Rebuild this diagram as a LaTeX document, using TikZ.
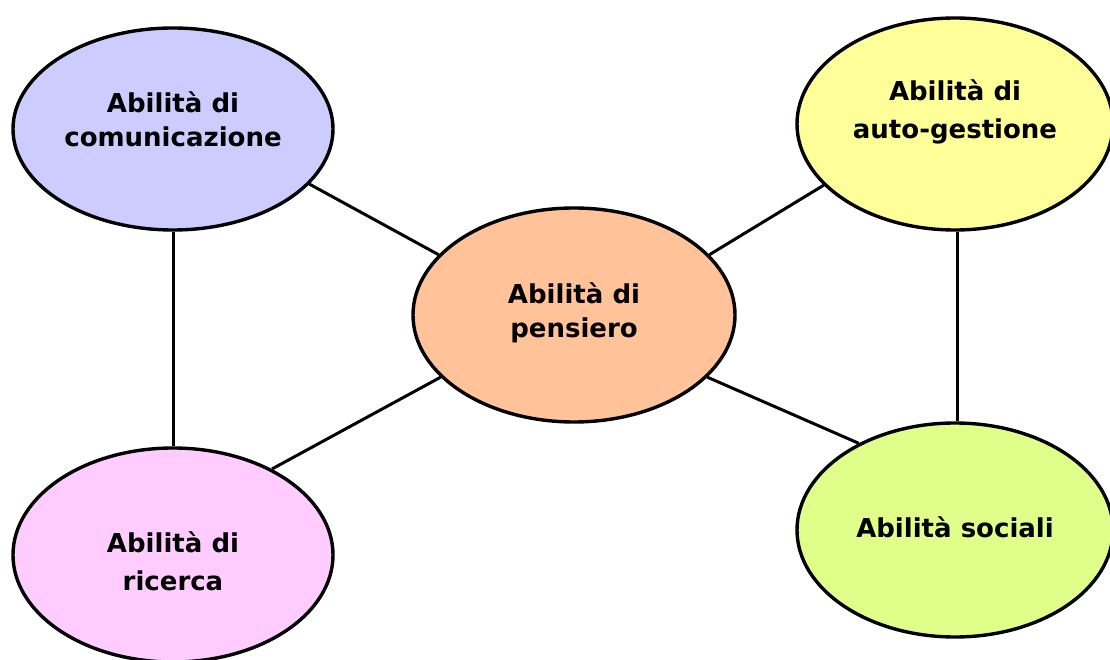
\documentclass[tikz,border=0pt]{standalone}
\usepackage{fontspec}
\setmainfont{DejaVu Sans}
\usepackage{xcolor}
\usepackage{tikz}
\usetikzlibrary{shapes.geometric,positioning}

\definecolor{comcol}{HTML}{CCCCFF}
\definecolor{autocol}{HTML}{FFFF99}
\definecolor{pencol}{HTML}{FFC299}
\definecolor{riccol}{HTML}{FFCCFF}
\definecolor{soccol}{HTML}{DFFF8A}

\begin{document}
\begin{tikzpicture}[
  x=1pt,y=1pt,
  skill/.style={ellipse,draw=black,line width=3.4pt,inner sep=0pt,
    minimum width=320pt,minimum height=212pt},
  every label/.style={align=center,font=\fontsize{26}{34}\selectfont\bfseries},
  wide/.style={font=\fontsize{26}{38}\selectfont\bfseries},
  link/.style={line width=3pt}]
  \useasboundingbox (0,0) rectangle (1110,659);
  % c-pensiero tl-comunicazione tr-auto-gestione bl-ricerca br-sociali
  \node [skill,fill=pencol,minimum width=322pt,minimum height=214pt,
    label={[yshift=2pt]center:Abilità di\\pensiero}] (c) at (574,344) {};
  \node [skill,fill=comcol,minimum height=202pt,
    label={[yshift=10pt]center:Abilità di\\comunicazione}] (tl) at (173,530) {};
  \node [skill,fill=autocol,minimum width=316pt,
    label={[wide,yshift=12pt]center:Abilità di\\auto-gestione}] (tr) at (955,535) {};
  \node [skill,fill=riccol,minimum height=214pt,
    label={[wide,yshift=-6pt]center:Abilità di\\ricerca}] (bl) at (173,104) {};
  \node [skill,fill=soccol,minimum width=316pt,minimum height=214pt,
    label={[yshift=3pt]center:Abilità sociali}] (br) at (955,129) {};

  \draw [link] (tl.-22) -- (c.156);
  \draw [link] (c.24) -- (tr.205);
  \draw [link] (bl.41) -- (c.205);
  \draw [link] (c.-25) -- (br.138);
  \draw [link] (tl.south) -- (bl.north);
  \draw [link] ([xshift=2pt]tr.south) -- ([xshift=2pt]br.north);
\end{tikzpicture}
\end{document}
